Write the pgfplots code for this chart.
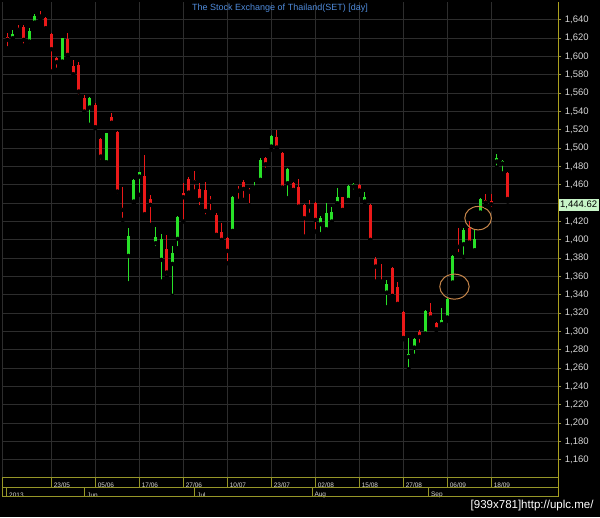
\documentclass[border=0pt]{standalone}
\usepackage{fontspec}
\setmainfont{Liberation Sans}
\usepackage{pgfplots}
\usepackage{pgfplotstable}
\pgfplotsset{compat=1.18}

\definecolor{upc}{RGB}{40,225,40}
\definecolor{dnc}{RGB}{235,25,25}
\definecolor{gridc}{RGB}{45,45,45}
\definecolor{axisyel}{RGB}{170,160,30}
\definecolor{stripc}{RGB}{150,150,40}
\definecolor{labc}{RGB}{215,215,215}
\definecolor{titlec}{RGB}{80,140,220}
\definecolor{ringc}{RGB}{200,135,75}
\definecolor{lastc}{RGB}{200,245,200}

% rising days: bar index, open, high, low, close
\pgfplotstableread{
i o h l c
1 1620.0 1629.0 1619.0 1624.4
4 1616.4 1631.6 1612.0 1628.0
5 1637.1 1646.2 1636.4 1644.4
10 1594.5 1620.5 1593.8 1620.0
15 1544.4 1556.0 1525.5 1555.3
18 1484.7 1517.0 1483.6 1516.4
22 1382.5 1412.7 1352.7 1404.4
23 1441.8 1466.2 1440.0 1465.5
24 1469.1 1474.5 1449.1 1473.5
27 1396.4 1413.8 1390.9 1403.6
28 1378.2 1406.5 1354.5 1401.1
30 1373.8 1393.5 1338.9 1385.5
31 1401.1 1425.5 1390.9 1424.7
41 1409.8 1448.4 1409.1 1447.3
45 1457.1 1463.6 1454.5 1458.9
46 1465.5 1489.1 1464.4 1487.3
48 1501.8 1514.5 1498.2 1513.8
51 1461.8 1478.2 1445.5 1477.1
57 1417.1 1426.2 1406.2 1424.4
58 1411.6 1440.0 1410.9 1429.1
59 1420.0 1435.6 1418.2 1430.9
60 1440.0 1456.4 1439.3 1447.3
62 1443.6 1460.0 1442.9 1458.9
63 1458.2 1462.5 1452.7 1461.1
65 1441.8 1452.7 1441.1 1446.5
69 1342.5 1356.4 1326.5 1352.0
73 1272.4 1293.5 1258.9 1276.0
74 1282.5 1293.5 1273.5 1291.6
76 1297.8 1323.3 1297.1 1322.5
79 1308.0 1326.2 1307.3 1312.4
80 1315.3 1336.4 1311.6 1335.3
81 1353.5 1383.6 1352.4 1382.5
83 1395.3 1412.7 1381.5 1410.5
85 1388.7 1410.5 1388.0 1400.7
86 1429.8 1445.5 1428.7 1444.4
89 1485.5 1493.5 1478.9 1489.1
90 1483.3 1486.9 1472.4 1486.2
}\up

% falling days
\pgfplotstableread{
i o h l c
0 1621.8 1625.5 1609.0 1618.2
2 1631.6 1634.5 1628.0 1629.1
3 1632.7 1634.5 1612.0 1618.2
6 1645.5 1649.8 1640.0 1643.6
7 1641.8 1643.6 1630.2 1630.9
8 1624.4 1625.5 1583.6 1608.0
9 1598.2 1600.0 1585.5 1593.8
11 1618.9 1625.5 1600.0 1601.8
12 1589.8 1596.4 1578.2 1580.7
13 1590.9 1594.5 1556.4 1561.8
14 1554.5 1557.5 1536.4 1540.0
16 1547.3 1549.1 1521.8 1522.9
17 1509.8 1511.6 1485.5 1490.9
19 1534.5 1538.9 1527.0 1527.8
20 1518.2 1519.3 1448.0 1452.7
21 1434.5 1458.2 1421.8 1432.7
25 1469.8 1492.7 1426.2 1428.0
26 1444.4 1449.1 1416.4 1438.2
29 1389.8 1405.5 1359.3 1364.4
32 1450.9 1461.8 1420.0 1446.5
33 1466.2 1469.1 1450.5 1451.6
34 1465.5 1475.6 1452.7 1462.9
35 1455.3 1461.8 1435.6 1443.6
36 1454.5 1462.9 1425.5 1431.6
37 1443.6 1448.4 1430.2 1441.8
38 1427.3 1429.1 1404.7 1405.5
39 1408.4 1418.2 1398.2 1400.0
40 1402.5 1403.6 1374.5 1388.0
42 1455.3 1459.3 1442.5 1453.5
43 1463.6 1465.5 1443.6 1455.6
44 1454.5 1456.4 1437.5 1452.7
47 1489.8 1490.9 1476.4 1482.5
49 1512.7 1520.0 1499.3 1500.7
50 1494.5 1495.6 1456.4 1457.1
52 1461.8 1463.6 1453.5 1454.5
53 1458.2 1466.5 1435.3 1436.4
54 1437.7 1438.6 1403.6 1423.6
55 1438.2 1443.6 1427.3 1436.4
56 1440.7 1441.8 1409.1 1421.8
61 1446.5 1447.3 1432.0 1432.7
64 1460.0 1461.1 1449.1 1453.8
66 1438.2 1438.9 1399.3 1400.0
67 1378.9 1381.1 1354.5 1370.9
68 1356.4 1373.8 1353.5 1354.5
70 1369.1 1370.2 1338.2 1338.9
71 1348.4 1354.5 1329.1 1330.2
72 1321.3 1322.4 1291.6 1293.0
75 1300.0 1301.5 1285.5 1294.2
77 1321.8 1331.6 1314.5 1315.3
78 1309.8 1310.9 1301.5 1302.5
82 1394.5 1412.7 1384.4 1392.4
84 1412.7 1420.7 1396.4 1397.1
87 1443.3 1449.8 1437.1 1440.7
88 1442.5 1450.5 1433.5 1438.9
91 1472.7 1473.5 1441.8 1444.62
}\down

\begin{document}
\begin{tikzpicture}
\useasboundingbox (0,0) rectangle (600pt,517pt);
\fill[black] (0,0) rectangle (600pt,517pt);
\begin{axis}[
    at={(2.35pt,39.7pt)}, anchor=south west,
    scale only axis, width=556.05pt, height=475.4pt,
    xmin=-0.9, xmax=100.2, ymin=1141, ymax=1659.6,
    clip=false,
    axis line style={draw=none},
    grid=major,
    grid style={gridc, line width=0.8pt},
    xtick={8,16,...,88},
    xticklabels={23/05,05/06,17/06,27/06,10/07,23/07,02/08,15/08,27/08,06/09,18/09},
    extra x ticks={-0.1,14.1,34.1,55.4,76.6},
    extra x tick labels={2013,Jun,Jul,Aug,Sep},
    extra x tick style={grid=none, xticklabel style={yshift=-9.5pt}},
    xtick style={draw=none},
    xticklabel style={anchor=west, font=\fontsize{6.5}{7}\selectfont, text=labc,
        inner sep=1pt, xshift=1.3pt, yshift=-5pt},
    ytick={1160,1180,...,1420,1460,1480,...,1640},
    extra y ticks={1440}, extra y tick labels={},
    ytick pos=right, yticklabel pos=right,
    tick align=outside, major tick length=3pt,
    ytick style={draw=axisyel!60!gray, line width=0.8pt},
    yticklabel style={font=\fontsize{9.5}{10}\selectfont, text=labc},
    /pgf/number format/.cd, fixed, precision=0, 1000 sep={,}, assume math mode=true,
]
% wicks
\addplot [only marks, mark=none, forget plot,
    error bars/.cd, y dir=plus, y explicit, error mark=none,
    error bar style={draw=upc, line width=1pt}]
    table [x=i, y=l, y error plus expr=\thisrow{h}-\thisrow{l}] {\up};
\addplot [only marks, mark=none, forget plot,
    error bars/.cd, y dir=plus, y explicit, error mark=none,
    error bar style={draw=dnc, line width=1pt}]
    table [x=i, y=l, y error plus expr=\thisrow{h}-\thisrow{l}] {\down};
% bodies
\addplot [only marks, mark=none, forget plot,
    error bars/.cd, y dir=plus, y explicit, error mark=none,
    error bar style={draw=upc, line width=3.2pt}]
    table [x=i, y=o, y error plus expr=\thisrow{c}-\thisrow{o}] {\up};
\addplot [only marks, mark=none, forget plot,
    error bars/.cd, y dir=plus, y explicit, error mark=none,
    error bar style={draw=dnc, line width=3.2pt}]
    table [x=i, y=c, y error plus expr=\thisrow{o}-\thisrow{c}] {\down};

% circled breakouts
\draw[ringc, line width=1pt] (axis cs:81.3,1349) ellipse [x radius=14.7pt, y radius=12.5pt];
\draw[ringc, line width=1pt] (axis cs:85.6,1423.7) ellipse [x radius=13.3pt, y radius=11.7pt];

% date strip
\draw[stripc, line width=0.8pt] ([yshift=-19.4pt]rel axis cs:0,0) rectangle (rel axis cs:1,0);
\draw[stripc, line width=0.8pt] ([yshift=-10pt]rel axis cs:0,0) -- ([yshift=-10pt]rel axis cs:1,0);
\pgfplotsinvokeforeach{8,16,24,32,40,48,56,64,72,80,88}{
  \draw[stripc, line width=0.8pt] (axis cs:#1,1141) -- ([yshift=-10pt]axis cs:#1,1141);
}
\pgfplotsinvokeforeach{-0.1,14.1,34.1,55.4,76.6}{
  \draw[stripc, line width=0.8pt] ([yshift=-10pt]axis cs:#1,1141) -- ([yshift=-19.4pt]axis cs:#1,1141);
}
\draw[gridc, line width=0.8pt] (rel axis cs:0,0) -- (rel axis cs:0,1);
\draw[axisyel, line width=1.2pt] ([yshift=-19.4pt]rel axis cs:1,0) -- (rel axis cs:1,1);

% last price
\node[fill=lastc, text=black, anchor=west, inner sep=1.5pt, minimum height=12pt,
      font=\fontsize{9.5}{10}\selectfont] at ([yshift=-6pt]axis cs:100.2,1444.62) {1,444.62};
\end{axis}
\node[text=titlec, font=\fontsize{9}{10}\selectfont] at (280pt,509pt)
    {The Stock Exchange of Thailand(SET) [day]};
\node[anchor=east, text=white, font=\fontsize{11.5}{12}\selectfont] at (597pt,11pt)
    {[939x781]http://uplc.me/};
\end{tikzpicture}
\end{document}
